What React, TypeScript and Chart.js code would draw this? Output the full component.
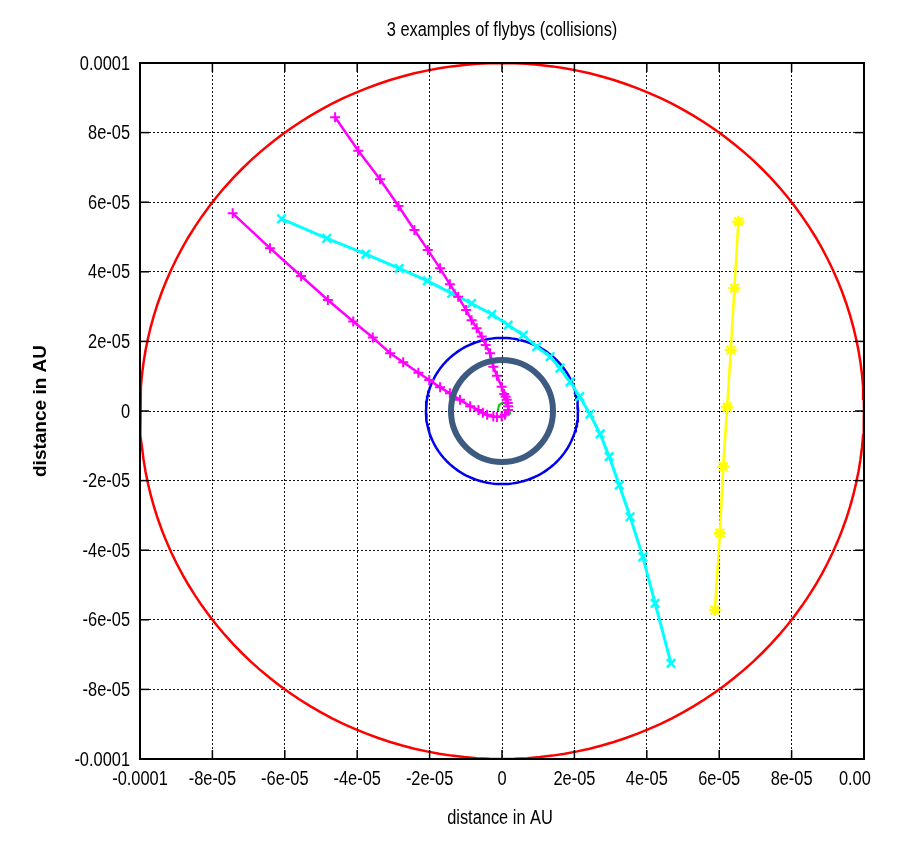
import React, { useEffect, useRef } from "react";
import { Chart, registerables } from "chart.js";

Chart.register(...registerables);

const TITLE = "3 examples of flybys (collisions)";
const X_TITLE = "distance in AU";
const Y_TITLE = "distance in AU";

const TICK_VALUES = [-1e-4, -8e-5, -6e-5, -4e-5, -2e-5, 0, 2e-5, 4e-5, 6e-5, 8e-5, 1e-4];
const X_TICK_LABELS = ["-0.0001", "-8e-05", "-6e-05", "-4e-05", "-2e-05", "0", "2e-05", "4e-05", "6e-05", "8e-05", "0.00"];
const Y_TICK_LABELS = ["-0.0001", "-8e-05", "-6e-05", "-4e-05", "-2e-05", "0", "2e-05", "4e-05", "6e-05", "8e-05", "0.0001"];
// the last x label is the visible (cut off) part of this one
const X_LAST_FULL = "0.0001";

// magenta trajectory (comes in from the left, curls at the centre, leaves towards the top)
const MAGENTA_X = [
  -7.44e-5, -6.41e-5, -5.55e-5, -4.81e-5, -4.11e-5, -3.57e-5, -3.09e-5, -2.73e-5, -2.31e-5, -2.01e-5,
  -1.71e-5, -1.44e-5, -1.16e-5, -0.88e-5, -0.65e-5, -0.53e-5, -0.41e-5, -0.24e-5, -0.14e-5, -0.01e-5,
  0.08e-5, 0.17e-5, 0.17e-5, 0.16e-5, 0.13e-5, 0.10e-5, 0.06e-5, -0.01e-5, -0.14e-5, -0.24e-5,
  -0.33e-5, -0.45e-5, -0.56e-5, -0.70e-5, -0.84e-5, -0.99e-5, -1.21e-5, -1.44e-5, -1.71e-5, -2.05e-5,
  -2.42e-5, -2.86e-5, -3.37e-5, -3.97e-5, -4.61e-5,
];
const MAGENTA_Y = [
  5.68e-5, 4.68e-5, 3.88e-5, 3.19e-5, 2.57e-5, 2.11e-5, 1.66e-5, 1.40e-5, 1.10e-5, 0.89e-5,
  0.68e-5, 0.51e-5, 0.32e-5, 0.14e-5, 0.03e-5, -0.05e-5, -0.11e-5, -0.16e-5, -0.17e-5, -0.16e-5,
  -0.11e-5, 0.03e-5, 0.14e-5, 0.23e-5, 0.32e-5, 0.41e-5, 0.49e-5, 0.70e-5, 1.01e-5, 1.27e-5,
  1.66e-5, 1.90e-5, 2.14e-5, 2.38e-5, 2.61e-5, 2.90e-5, 3.28e-5, 3.64e-5, 4.10e-5, 4.63e-5,
  5.20e-5, 5.89e-5, 6.66e-5, 7.48e-5, 8.44e-5,
];

const CYAN_X = [
  -6.09e-5, -4.84e-5, -3.76e-5, -2.84e-5, -2.06e-5, -1.39e-5, -0.84e-5, -0.28e-5, 0.17e-5, 0.59e-5,
  0.96e-5, 1.33e-5, 1.60e-5, 1.88e-5, 2.15e-5, 2.43e-5, 2.71e-5, 2.96e-5, 3.24e-5, 3.54e-5,
  3.89e-5, 4.23e-5, 4.67e-5,
];
const CYAN_Y = [
  5.52e-5, 4.96e-5, 4.51e-5, 4.10e-5, 3.74e-5, 3.38e-5, 3.09e-5, 2.78e-5, 2.47e-5, 2.18e-5,
  1.85e-5, 1.56e-5, 1.23e-5, 0.84e-5, 0.41e-5, -0.09e-5, -0.66e-5, -1.31e-5, -2.13e-5, -3.04e-5,
  -4.19e-5, -5.53e-5, -7.25e-5,
];

const YELLOW_X = [6.53e-5, 6.42e-5, 6.32e-5, 6.22e-5, 6.11e-5, 6.02e-5, 5.88e-5];
const YELLOW_Y = [5.44e-5, 3.53e-5, 1.75e-5, 0.11e-5, -1.60e-5, -3.51e-5, -5.72e-5];

const GREEN_X = [-0.12e-5, -0.08e-5, 0.02e-5, 0.12e-5, 0.20e-5, 0.22e-5];
const GREEN_Y = [0.0, 0.17e-5, 0.25e-5, 0.20e-5, 0.05e-5, -0.10e-5];

const RED_RADIUS = 1e-4;
const BLUE_RADIUS = 2.1e-5;
const CENTRE = [{ x: 0, y: 0 }];

const SANS = "'Liberation Sans', Arial, sans-serif";
const NARROW_FACTOR = 0.82; // emulates Arial Narrow

const zip = (xs: number[], ys: number[]) => xs.map((x, i) => ({ x, y: ys[i] }));
const circle = (r: number) => {
  const pts: { x: number; y: number }[] = [];
  for (let i = 0; i <= 360; i += 2) {
    const a = (i * Math.PI) / 180;
    pts.push({ x: r * Math.cos(a), y: r * Math.sin(a) });
  }
  return pts;
};

const narrowText = (ctx: any, text: string, x: number, y: number, align: string) => {
  ctx.save();
  ctx.translate(x, y);
  ctx.scale(NARROW_FACTOR, 1);
  ctx.textAlign = align;
  ctx.textBaseline = "middle";
  ctx.fillText(text, 0, 0);
  ctx.restore();
};

const framePlugin = {
  id: "frame",
  afterDraw(chart: any) {
    const { ctx, chartArea: a, scales } = chart;
    ctx.save();
    ctx.strokeStyle = "#000";
    ctx.lineWidth = 1.5;
    const seg = (x1: number, y1: number, x2: number, y2: number) => {
      ctx.beginPath();
      ctx.moveTo(x1, y1);
      ctx.lineTo(x2, y2);
      ctx.stroke();
    };
    TICK_VALUES.forEach((v) => {
      const x = scales.x.getPixelForValue(v);
      seg(x, a.bottom, x, a.bottom - 9);
      seg(x, a.top, x, a.top + 9);
      const y = scales.y.getPixelForValue(v);
      seg(a.left, y, a.left + 9, y);
      seg(a.right, y, a.right - 9, y);
    });
    ctx.lineWidth = 2;
    ctx.strokeRect(a.left, a.top, a.right - a.left, a.bottom - a.top);

    ctx.fillStyle = "#000";
    ctx.font = `20px ${SANS}`;
    // tick labels, placed by the scales
    const last = scales.x.ticks.length - 1;
    scales.x.ticks.forEach((t: any, i: number) => {
      const px = scales.x.getPixelForValue(t.value);
      if (i === last) {
        const w = ctx.measureText(X_LAST_FULL).width * NARROW_FACTOR;
        narrowText(ctx, X_TICK_LABELS[i], px - w / 2, a.bottom + 20, "left");
      } else {
        narrowText(ctx, X_TICK_LABELS[i], px, a.bottom + 20, "center");
      }
    });
    scales.y.ticks.forEach((t: any, i: number) => {
      narrowText(ctx, Y_TICK_LABELS[i], a.left - 10, scales.y.getPixelForValue(t.value) + 1, "right");
    });
    // titles
    narrowText(ctx, TITLE, (a.left + a.right) / 2, 30, "center");
    narrowText(ctx, X_TITLE, (a.left + a.right) / 2 - 2, 818, "center");
    ctx.restore();
  },
};

export default function App() {
  const ref = useRef<HTMLCanvasElement | null>(null);

  useEffect(() => {
    if (!ref.current) return;
    const chart = new Chart(ref.current, {
      type: "scatter",
      data: {
        datasets: [
          {
            label: "marker",
            data: CENTRE,
            pointStyle: "circle",
            pointRadius: 51,
            pointBorderWidth: 6,
            borderColor: "#3D5A80",
            backgroundColor: "rgba(0,0,0,0)",
            showLine: false,
          },
          {
            label: "magenta",
            data: zip(MAGENTA_X, MAGENTA_Y),
            showLine: true,
            borderColor: "#FF00FF",
            backgroundColor: "#FF00FF",
            borderWidth: 2.5,
            pointStyle: "cross",
            pointRadius: 5,
            pointBorderWidth: 2,
          },
          {
            label: "cyan",
            data: zip(CYAN_X, CYAN_Y),
            showLine: true,
            borderColor: "#00FFFF",
            backgroundColor: "#00FFFF",
            borderWidth: 3,
            pointStyle: "crossRot",
            pointRadius: 6,
            pointBorderWidth: 2.5,
          },
          {
            label: "yellow",
            data: zip(YELLOW_X, YELLOW_Y),
            showLine: true,
            borderColor: "#FFFF00",
            backgroundColor: "#FFFF00",
            borderWidth: 2.5,
            pointStyle: "star",
            pointRadius: 6,
            pointBorderWidth: 2.5,
          },
          {
            label: "green",
            data: zip(GREEN_X, GREEN_Y),
            showLine: true,
            borderColor: "#00CC00",
            borderWidth: 2,
            pointRadius: 0,
          },
          {
            label: "blue",
            data: circle(BLUE_RADIUS),
            showLine: true,
            borderColor: "#0000F0",
            borderWidth: 2.5,
            pointRadius: 0,
          },
          {
            label: "red",
            data: circle(RED_RADIUS),
            showLine: true,
            borderColor: "#FF0000",
            borderWidth: 2.5,
            pointRadius: 0,
          },
        ],
      },
      options: {
        animation: false,
        responsive: false,
        devicePixelRatio: 1,
        layout: { autoPadding: false, padding: { top: 63, right: 35, left: 0, bottom: 0 } },
        plugins: {
          legend: { display: false },
          tooltip: { enabled: false },
          title: { display: false },
        },
        scales: {
          x: {
            type: "linear",
            min: -1e-4,
            max: 1e-4,
            afterBuildTicks: (s: any) => {
              s.ticks = TICK_VALUES.map((v) => ({ value: v }));
            },
            afterFit: (s: any) => {
              s.height = 84;
              s.paddingLeft = 0;
              s.paddingRight = 0;
            },
            ticks: { display: false, autoSkip: false, maxRotation: 0 },
            grid: { color: "#111", lineWidth: 1, drawTicks: false },
            border: { display: true, color: "#000", width: 2, dash: [2, 2] },
          },
          y: {
            type: "linear",
            min: -1e-4,
            max: 1e-4,
            afterBuildTicks: (s: any) => {
              s.ticks = TICK_VALUES.map((v) => ({ value: v }));
            },
            afterFit: (s: any) => {
              s.width = 140;
              s.paddingTop = 0;
              s.paddingBottom = 0;
            },
            ticks: { display: false, autoSkip: false },
            grid: { color: "#111", lineWidth: 1, drawTicks: false },
            border: { display: true, color: "#000", width: 2, dash: [2, 2] },
            title: {
              display: true,
              text: Y_TITLE,
              color: "#000",
              font: { family: SANS, size: 19, weight: "bold" },
              padding: { top: 29.6, bottom: 0 },
            },
          },
        },
      },
      plugins: [framePlugin],
    } as any);
    return () => chart.destroy();
  }, []);

  return (
    <canvas
      ref={ref}
      width={899}
      height={843}
      style={{ position: "absolute", left: 0, top: 0, width: 899, height: 843 }}
    />
  );
}
